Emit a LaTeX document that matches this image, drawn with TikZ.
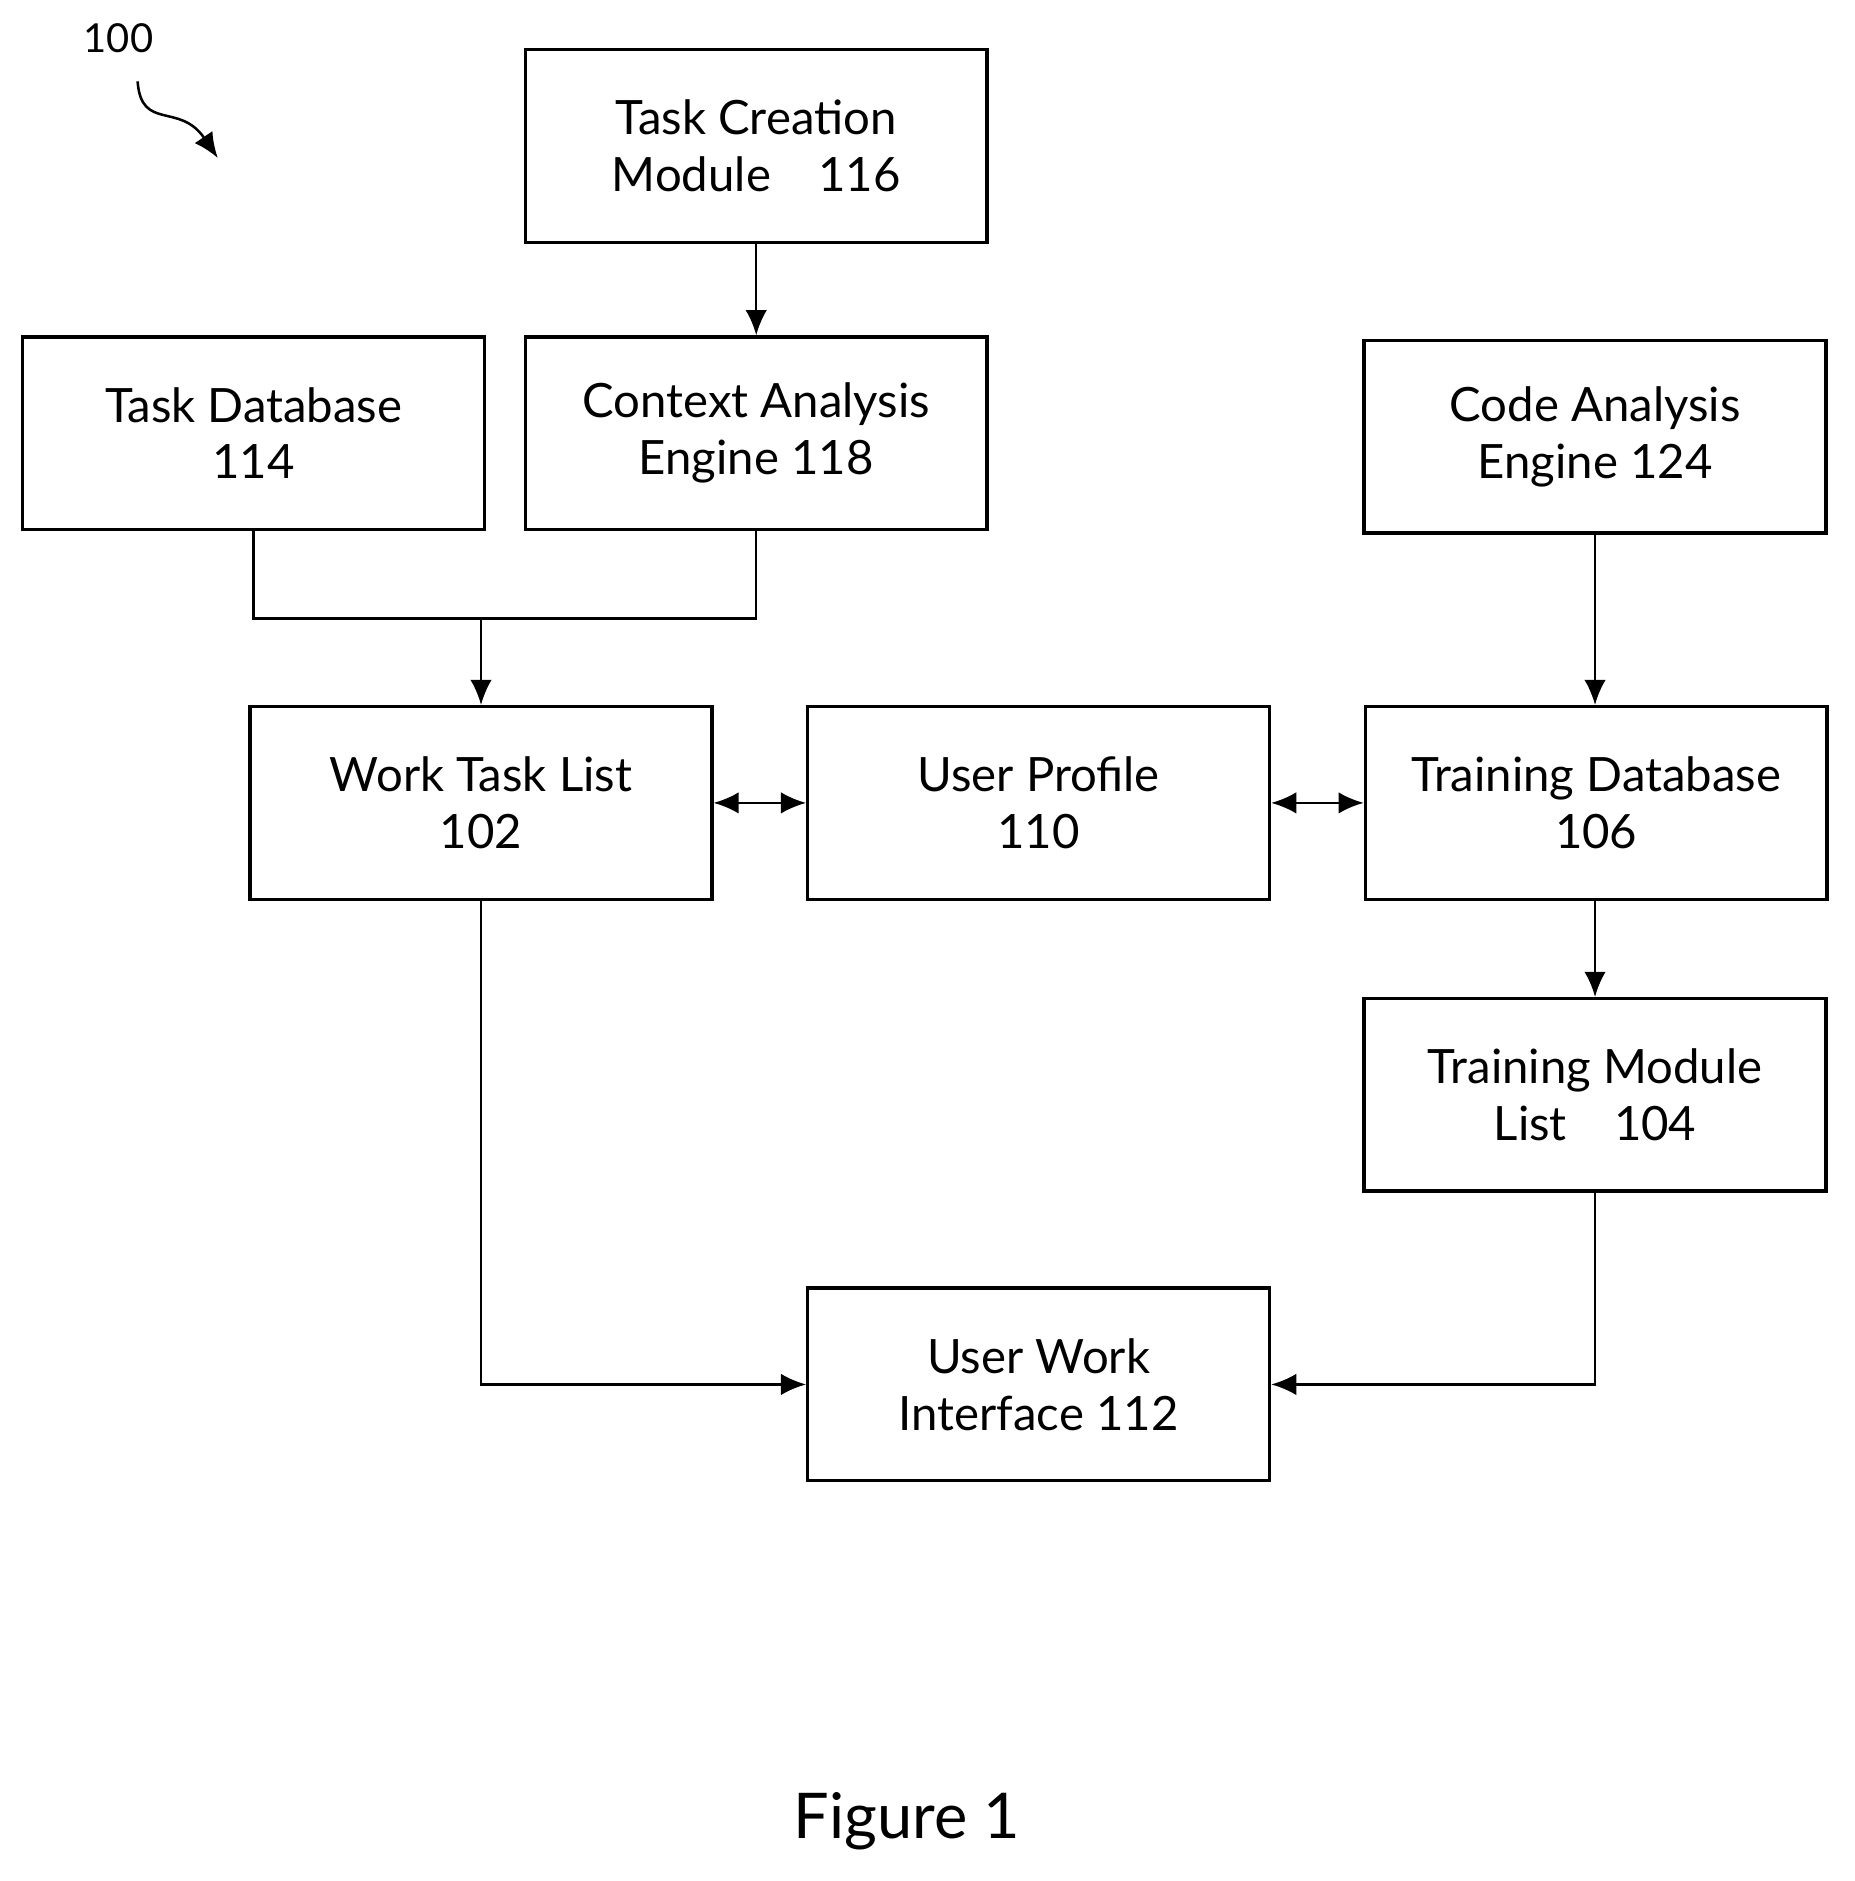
\documentclass[tikz,border=0pt]{standalone}
\usepackage{fontspec}
\setmainfont{Lato}
\usetikzlibrary{arrows.meta,positioning,calc}
\begin{document}
\begin{tikzpicture}[%
>={Latex[length=0.42cm,width=0.36cm]},
x=0.02cm, y=-0.02cm,
box/.style={draw, line width=1.6pt, minimum width=7.72cm, minimum height=3.22cm, align=center, font=\fontsize{22.5}{27}\selectfont, inner sep=0pt},
link/.style={line width=1.2pt}
]
\useasboundingbox (0,0) rectangle (1550,1572);
\node (label) at (99,32) {\fontsize{19}{22}\selectfont 100};
\coordinate (sq1) at (115,68);
\coordinate (sq2) at (182,132);
\draw[link,->] (sq1) .. controls (118,110) and (150,85) .. (sq2);

\node[box] (create) at (632,122) {Task Creation\\Module\quad 116};
\node[box] (taskdb) at (212,362) {Task Database\\114};
\node[box] (context) at (632,362) {Context Analysis\\Engine 118};
\node[box] (code) at (1333,365) {Code Analysis\\Engine 124};
\node[box] (worklist) at (402,671) {Work Task List\\102};
\node[box] (profile) at (868,671) {User Profile\\110};
\node[box] (traindb) at (1334,671) {Training Database\\106};
\node[box] (module) at (1333,915) {Training Module\\List\quad 104};
\node[box] (ui) at (868,1157) {User Work\\Interface 112};
\node (fig) at (758,1522) {\fontsize{30}{34}\selectfont Figure 1};

% joins
\coordinate (j) at (402,517);
\draw[link,->] (create) -- (context);
\draw[link] (taskdb.south) |- (j) -| (context.south);
\draw[link,->] (j) -- (worklist.north);
\draw[link,<->] (worklist) -- (profile);
\draw[link,<->] (profile) -- (traindb);
\draw[link,->] (code) -- (code.south |- traindb.north);
\draw[link,->] (traindb.south -| module.north) -- (module.north);
\draw[link,->] (worklist.south) |- (ui.west);
\draw[link,->] (module.south) |- (ui.east);
\end{tikzpicture}
\end{document}
